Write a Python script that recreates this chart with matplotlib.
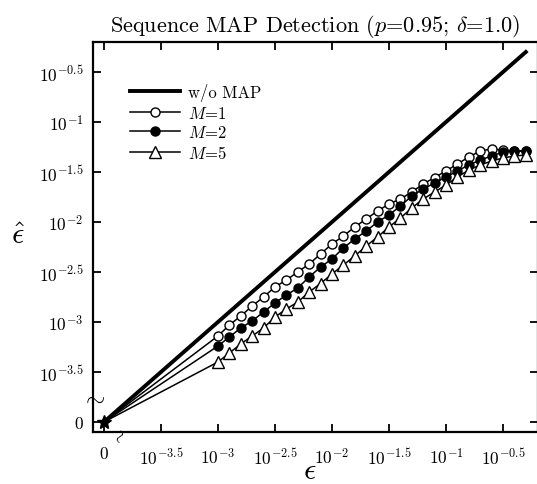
import numpy as np
import matplotlib
matplotlib.use("Agg")
import matplotlib.pyplot as plt

plt.rcParams["font.family"] = "cmr10"
plt.rcParams["mathtext.fontset"] = "cm"
plt.rcParams["axes.unicode_minus"] = False

# log10 of epsilon at which the curves were sampled
eps_exp = [-3.0, -2.9, -2.8, -2.7, -2.6, -2.5, -2.4, -2.3, -2.2, -2.1,
           -2.0, -1.9, -1.8, -1.7, -1.6, -1.5, -1.4, -1.3, -1.2, -1.1,
           -1.0, -0.9, -0.8, -0.7, -0.6, -0.5, -0.4, -0.3]

# log10 of estimated epsilon-hat
wo_map = [-3.0, -2.9, -2.8, -2.7, -2.6, -2.5, -2.4, -2.3, -2.2, -2.1,
          -2.0, -1.9, -1.8, -1.7, -1.6, -1.5, -1.4, -1.3, -1.2, -1.1,
          -1.0, -0.9, -0.8, -0.7, -0.6, -0.5, -0.4, -0.3]
m1 = [-3.14, -3.03, -2.94, -2.84, -2.75, -2.65, -2.58, -2.50, -2.42, -2.32,
      -2.22, -2.14, -2.05, -1.97, -1.89, -1.82, -1.77, -1.70, -1.62, -1.555,
      -1.49, -1.42, -1.35, -1.29, -1.27, -1.28, -1.29, -1.29]
m2 = [-3.24, -3.15, -3.06, -2.99, -2.90, -2.81, -2.73, -2.66, -2.55, -2.45,
      -2.37, -2.26, -2.17, -2.09, -2.00, -1.93, -1.84, -1.74, -1.67, -1.61,
      -1.55, -1.49, -1.43, -1.38, -1.34, -1.30, -1.29, -1.29]
m5 = [-3.40, -3.31, -3.22, -3.14, -3.06, -2.95, -2.87, -2.80, -2.70, -2.615,
      -2.52, -2.43, -2.34, -2.24, -2.15, -2.05, -1.96, -1.86, -1.77, -1.70,
      -1.63, -1.55, -1.48, -1.43, -1.39, -1.36, -1.34, -1.33]

# the "0" point of the broken axes sits at 10^-4
zero_exp = -4.0
tick_exp = [-4.0, -3.5, -3.0, -2.5, -2.0, -1.5, -1.0, -0.5]
tick_lab = ["0", r"$10^{-3.5}$", r"$10^{-3}$", r"$10^{-2.5}$", r"$10^{-2}$",
            r"$10^{-1.5}$", r"$10^{-1}$", r"$10^{-0.5}$"]


def with_zero(vals):
    return 10.0 ** np.array([zero_exp] + list(vals))


fig = plt.figure(figsize=(5.37, 4.85), dpi=100)
ax = fig.add_axes([93 / 537, 52 / 485, 445 / 537, 390 / 485])

x = with_zero(eps_exp)
ax.plot(x, with_zero(wo_map), color="black", lw=2.8, label="w/o MAP")
ax.plot(x, with_zero(m1), color="black", lw=1.1, marker="o", ms=6.5,
        mfc="white", mec="black", mew=1.0, markevery=range(1, len(x)),
        label="$M$=1")
ax.plot(x, with_zero(m2), color="black", lw=1.1, marker="o", ms=6.5,
        mfc="black", mec="black", markevery=range(1, len(x)),
        label="$M$=2")
ax.plot(x, with_zero(m5), color="black", lw=1.1, marker="^", ms=9,
        mfc="white", mec="black", mew=1.0, markevery=range(1, len(x)),
        label="$M$=5")
# the point at the origin
ax.plot([10 ** zero_exp], [10 ** zero_exp], marker="*", ms=10, color="black")

ax.set_xscale("log")
ax.set_yscale("log")
ax.set_xlim(10 ** -4.096, 10 ** -0.193)
ax.set_ylim(10 ** -4.1, 10 ** -0.2)
ticks = [10 ** t for t in tick_exp]
ax.set_xticks(ticks)
ax.set_xticklabels(tick_lab)
ax.set_yticks(ticks)
ax.set_yticklabels(tick_lab)
ax.minorticks_off()
ax.tick_params(direction="in", top=True, right=True, length=6, width=1.3,
               labelsize=12.5)
ax.tick_params(axis="x", pad=10)
ax.tick_params(axis="y", pad=7)
for s in ax.spines.values():
    s.set_linewidth(1.6)

# axis break marks
ax.text(0, 10 ** -3.77, r"$\sim$", transform=ax.get_yaxis_transform(),
        ha="center", va="center", fontsize=18, fontweight="bold",
        clip_on=False)
ax.text(10 ** -3.88, -0.01, r"$\sim$", transform=ax.get_xaxis_transform(),
        ha="center", va="center", fontsize=13, rotation=70, clip_on=False)

ax.set_xlabel(r"$\epsilon$", fontsize=22, va="center")
ax.xaxis.set_label_coords(0.488, -0.098)
ax.set_ylabel(r"$\hat{\epsilon}$", fontsize=22, rotation=0,
              ha="center", va="center")
ax.yaxis.set_label_coords(-0.168, 0.505)

ax.set_title(r"Sequence MAP Detection ($p$=0.95; $\delta$=1.0)",
             fontsize=16, x=0.5, pad=8)

ax.legend(loc="upper left", bbox_to_anchor=(0.083, 0.895), frameon=False,
          fontsize=12, handlelength=3.0, handletextpad=0.5,
          labelspacing=0.22, borderpad=0, borderaxespad=0)

fig.savefig("out.png", dpi=100)
